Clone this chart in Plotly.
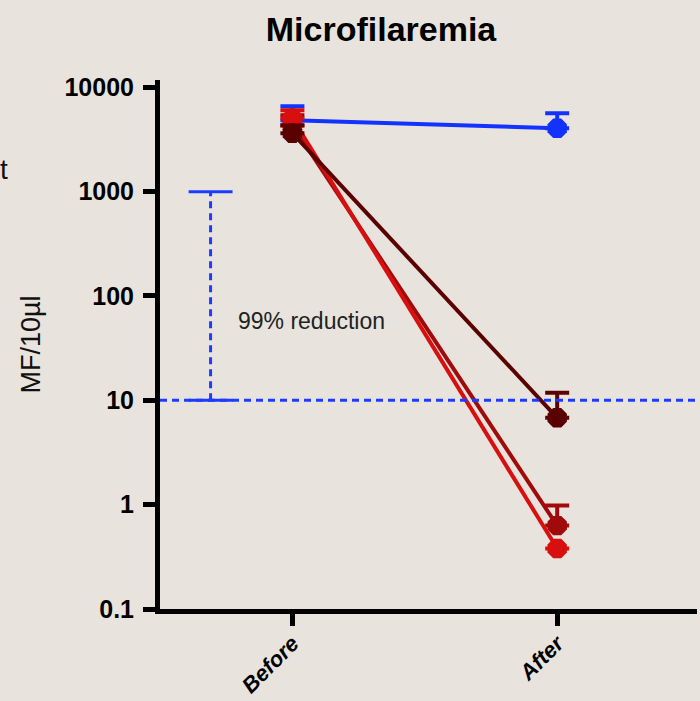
import plotly.graph_objects as go

# ---- data ----
timepoints = ["Before", "After"]
x_pos = [0, 1]
group_names = ["Control", "Treatment A", "Treatment B", "Treatment C"]
group_colors = ["#1432ff", "#a00a0a", "#d70f0f", "#5a0000"]
before_vals = [4830, 4330, 5040, 3630]
after_vals = [4050, 0.63, 0.38, 6.8]
before_upper = [6580, 5400, 6020, 4300]
after_upper = [5630, 0.98, 0.38, 11.8]
threshold = 10
bracket_top = 1000
y_ticks = [0.1, 1, 10, 100, 1000, 10000]
y_ticklabels = ["0.1", "1", "10", "100", "1000", "10000"]

bg = "#e8e4dd"
sans = "Liberation Sans, Arial"

fig = go.Figure()

for name, col, b, a, bu, au in zip(group_names, group_colors, before_vals, after_vals, before_upper, after_upper):
    fig.add_trace(go.Scatter(
        x=x_pos, y=[b, a], name=name, mode="lines+markers",
        line=dict(color=col, width=4),
        marker=dict(symbol="octagon", size=21, color=col, line=dict(width=0)),
        error_y=dict(type="data", symmetric=False,
                     array=[bu - b, au - a], arrayminus=[0, 0],
                     color=col, thickness=4, width=12),
        showlegend=False,
    ))

# 10 MF threshold line
fig.add_shape(type="line", xref="paper", x0=0, x1=1, yref="y", y0=threshold, y1=threshold,
              line=dict(color="#1a3cff", width=3, dash="7px,5px"), layer="above")
# bracket
bx = -0.309
fig.add_shape(type="line", x0=bx, x1=bx, y0=threshold, y1=bracket_top,
              line=dict(color="#1a3cff", width=3, dash="7px,5px"))
fig.add_shape(type="line", x0=-0.392, x1=-0.226, y0=bracket_top, y1=bracket_top,
              line=dict(color="#1a3cff", width=3))
fig.add_shape(type="line", x0=-0.392, x1=-0.226, y0=threshold, y1=threshold,
              line=dict(color="#1a3cff", width=3))

fig.add_annotation(x=-0.213, y=1.759, xref="x", yref="y", text="99% reduction",
                   showarrow=False, xanchor="left", yanchor="middle",
                   font=dict(family=sans, size=23, color="#222222"))

fig.add_annotation(xref="paper", yref="paper", x=-0.242, y=0.5, text="MF/10µl",
                   textangle=-90, showarrow=False, xanchor="center", yanchor="middle",
                   font=dict(family=sans, size=27, color="#111111"))

fig.add_annotation(xref="paper", yref="paper", x=-0.302, y=0.83, text="t",
                   showarrow=False, xanchor="left", yanchor="middle",
                   font=dict(family=sans, size=28, color="#111111"))

fig.update_layout(
    width=700, height=701,
    margin=dict(l=160, r=3, t=80, b=92, autoexpand=False),
    paper_bgcolor=bg, plot_bgcolor=bg,
    title=dict(text="<b>Microfilaremia</b>", x=381 / 700, xanchor="center",
               y=1 - 29 / 701, yanchor="middle", xref="container", yref="container",
               font=dict(family=sans, size=34, color="black")),
    xaxis=dict(range=[-0.5, 1.528], tickvals=x_pos, ticktext=timepoints,
               tickangle=-45, showline=True, linewidth=5, linecolor="black",
               ticks="outside", ticklen=12, tickwidth=5, tickcolor="black",
               showgrid=False, zeroline=False, automargin=False, ticklabelstandoff=-4,
               tickfont=dict(family=sans, size=22, color="black",
                             weight="bold", style="italic")),
    yaxis=dict(type="log", range=[-1, 4.07], tickvals=y_ticks, ticktext=y_ticklabels,
               showline=True, linewidth=5, linecolor="black",
               ticks="outside", ticklen=12, tickwidth=5, tickcolor="black",
               showgrid=False, zeroline=False, ticklabelstandoff=4, automargin=False,
               tickfont=dict(family=sans, size=25, color="black", weight="bold")),
)

fig.write_html("out.html")
